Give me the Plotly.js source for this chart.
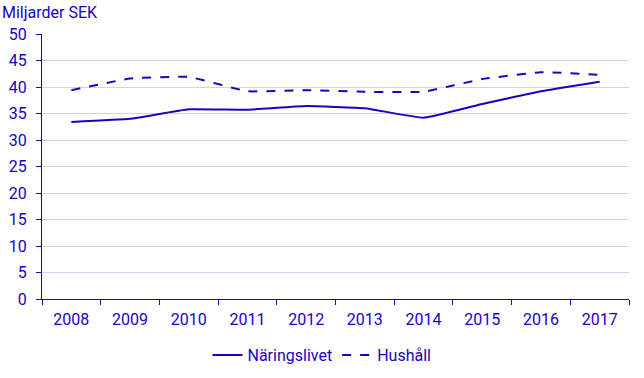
<!DOCTYPE html>
<html><head><meta charset="utf-8">
<script src="https://cdn.plot.ly/plotly-3.0.1.min.js"></script>
<style>html,body{margin:0;padding:0;background:#fff}</style>
</head><body>
<div id="chart" style="width:644px;height:378px"></div>
<script>
const years = ["2008","2009","2010","2011","2012","2013","2014","2015","2016","2017"];
const naringslivet = [33.4, 34.0, 35.8, 35.7, 36.4, 36.0, 34.2, 36.8, 39.2, 41.0];
const hushall = [39.4, 41.6, 41.9, 39.2, 39.4, 39.1, 39.1, 41.5, 42.8, 42.3];
const yTicks = [0,5,10,15,20,25,30,35,40,45,50];
const blue = "#1e00be";
const fam = "'Liberation Sans Narrow', 'Arial Narrow', Roboto, Arial, sans-serif";
const font = {family: fam, size: 16, color: blue};

const traces = [
  {x: years, y: naringslivet, name: "Näringslivet", type: "scatter", mode: "lines",
   line: {color: blue, width: 2, shape: "spline", smoothing: 0.3}},
  {x: years, y: hushall, name: "Hushåll", type: "scatter", mode: "lines",
   line: {color: blue, width: 2, dash: "dash", shape: "spline", smoothing: 0.3}}
];

const layout = {
  width: 644, height: 378,
  margin: {l: 42, r: 15, t: 34, b: 79, autoexpand: false},
  paper_bgcolor: "#fff", plot_bgcolor: "#fff",
  font: font,
  showlegend: true,
  legend: {orientation: "h", x: 0.5, xanchor: "center", xref: "container",
           y: 1 - 355/378, yanchor: "middle", yref: "container",
           font: font},
  title: {text: "Miljarder SEK", xref: "container", yref: "container",
          x: 2/644, xanchor: "left", y: 1 - 12/378, yanchor: "middle",
          font: font},
  xaxis: {type: "category", range: [-0.5, 9.5], tickson: "boundaries",
          ticks: "outside", ticklen: 5, tickcolor: blue, showline: true, linecolor: blue,
          linewidth: 1, showgrid: false, zeroline: false, tickfont: font, automargin: false,
          ticklabelstandoff: 6},
  yaxis: {range: [0, 50], tickvals: yTicks, ticks: "outside", ticklen: 5, tickcolor: blue,
          showline: true, linecolor: blue, linewidth: 1, gridcolor: "#d2d2f0", gridwidth: 1,
          zeroline: false, tickfont: font, automargin: false, ticklabelstandoff: 6}
};
Plotly.newPlot("chart", traces, layout, {displayModeBar: false, staticPlot: true});
</script>
</body></html>
